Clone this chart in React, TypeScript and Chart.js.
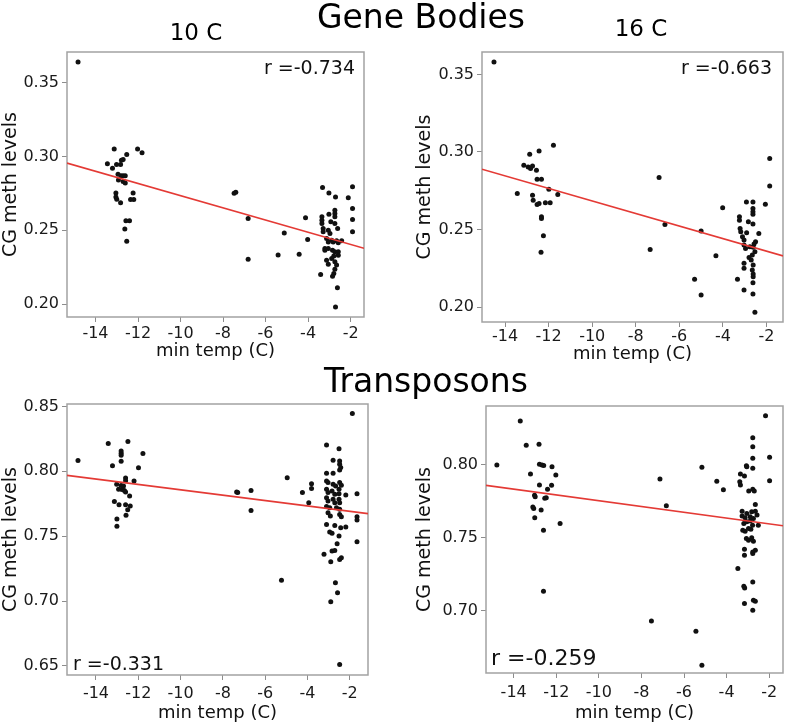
import React, { useEffect, useRef } from "react";
import { Chart, registerables } from "chart.js";

Chart.register(...registerables);

const FONT = "'DejaVu Sans', Verdana, sans-serif";

// ---------- shared tick labels ----------
const xTickValues = [-14, -12, -10, -8, -6, -4, -2];
const geneYTicks = [0.2, 0.25, 0.3, 0.35];
const trans10YTicks = [0.65, 0.7, 0.75, 0.8, 0.85];
const trans16YTicks = [0.7, 0.75, 0.8];

const sectionTitles = ["Gene Bodies", "Transposons"];
const columnTitles = ["10 C", "16 C"];
const xAxisTitle = "min temp (C)";
const yAxisTitle = "CG meth levels";
const rLabels = ["r =-0.734", "r =-0.663", "r =-0.331", "r =-0.259"];

// ---------- Gene bodies, 10 C ----------
const gb10X = [
  -14.82, -13.12, -13.44, -13.2, -13.01, -12.82, -12.78, -12.7, -12.53, -12.02, -11.81,
  -12.94, -12.8, -12.7, -12.6, -12.92, -12.7, -12.6, -13.04, -13.04, -13.0, -12.82,
  -12.35, -12.2, -12.23, -12.57, -12.4, -12.62, -12.53,
  -7.48, -7.4, -6.82, -6.82, -5.12, -5.41, -4.42, -4.12, -4.02,
  -3.32, -3.02, -2.71, -1.91, -2.11, -1.91, -1.91, -1.91, -2.74, -2.74, -2.74, -3.02,
  -3.35, -3.35, -3.35, -2.93, -2.74, -3.29, -3.29, -3.05, -2.97, -2.61, -2.42, -3.13,
  -3.05, -2.89, -2.82, -2.66, -2.58, -3.21, -3.21, -3.05, -2.85, -2.74, -2.58, -2.58,
  -2.79, -2.89, -3.13, -3.05, -2.74, -2.66, -2.74, -2.79, -2.85, -3.41, -2.62, -2.71,
];
const gb10Y = [
  0.364, 0.305, 0.295, 0.292, 0.2946, 0.2946, 0.2975, 0.298, 0.3013, 0.305, 0.3025,
  0.288, 0.287, 0.287, 0.287, 0.284, 0.283, 0.282, 0.2753, 0.2726, 0.271, 0.2686,
  0.2709, 0.2709, 0.2753, 0.2564, 0.2564, 0.2508, 0.2426,
  0.275, 0.2758, 0.258, 0.2304, 0.2482, 0.2333, 0.2338, 0.2584, 0.2438,
  0.279, 0.2753, 0.2726, 0.2794, 0.272, 0.2648, 0.2573, 0.2489, 0.2636, 0.2614, 0.2591, 0.2609,
  0.2591, 0.2568, 0.2546, 0.2557, 0.2546, 0.2512, 0.2489, 0.25, 0.2478, 0.2512, 0.2428, 0.2444,
  0.2421, 0.2433, 0.2421, 0.2428, 0.2415, 0.2377, 0.2365, 0.2377, 0.2365, 0.2354, 0.2354, 0.2331,
  0.2325, 0.2309, 0.2297, 0.227, 0.2286, 0.2264, 0.2236, 0.2207, 0.2189, 0.22, 0.211, 0.1979,
];
const gb10FitX = [-15.34, -1.37];
const gb10FitY = [0.2955, 0.2378];

// ---------- Gene bodies, 16 C ----------
const gb16X = [
  -14.51, -13.44, -13.14, -12.87, -12.94, -12.83, -12.74, -12.56, -12.44, -12.53, -12.33,
  -11.78, -12.74, -12.71, -12.53, -12.44, -12.15, -11.93, -11.99, -11.58, -12.33, -12.33,
  -12.24, -12.35,
  -6.93, -7.34, -6.66, -5.0, -5.3, -5.0, -4.32, -4.01,
  -1.85, -1.85, -2.05, -2.92, -2.62, -2.62, -2.62, -2.62, -3.24, -3.24, -2.83, -2.62,
  -3.21, -3.18, -2.91, -2.35, -3.1, -3.03, -2.5, -2.57, -3.03, -2.96, -2.76, -2.61,
  -2.53, -2.65, -2.8, -2.7, -3.03, -3.03, -2.61, -2.65, -2.61, -2.61, -3.33, -2.62,
  -3.03, -2.62, -2.53,
];
const gb16Y = [
  0.358, 0.2732, 0.2914, 0.2985, 0.2903, 0.2893, 0.291, 0.2882, 0.3006, 0.2824, 0.2824,
  0.3043, 0.2721, 0.2689, 0.2661, 0.2668, 0.2672, 0.2672, 0.276, 0.2726, 0.2582, 0.2571,
  0.246, 0.2353,
  0.2835, 0.2372, 0.2533, 0.249, 0.2179, 0.2078, 0.2331, 0.264,
  0.2958, 0.278, 0.2663, 0.2678, 0.2678, 0.2636, 0.2614, 0.2599, 0.2582, 0.256, 0.255, 0.2535,
  0.2507, 0.2485, 0.2479, 0.2475, 0.2453, 0.2432, 0.2421, 0.2406, 0.24, 0.2378, 0.2389, 0.2385,
  0.2356, 0.2335, 0.232, 0.2303, 0.2282, 0.225, 0.2271, 0.2239, 0.2213, 0.2196, 0.2179, 0.2157,
  0.211, 0.2084, 0.1967,
];
const gb16FitX = [-15.06, -1.24];
const gb16FitY = [0.2889, 0.233];

// ---------- Transposons, 10 C ----------
const tp10X = [
  -14.85, -13.42, -12.49, -12.81, -12.81, -12.81, -12.81, -11.78, -13.22, -11.99, -12.6,
  -12.6, -12.2, -13.02, -12.81, -12.7, -12.93, -12.77, -12.66, -12.6, -12.41, -13.13,
  -12.91, -12.6, -12.38, -12.5, -12.58, -13.01, -13.01,
  -7.35, -7.3, -6.67, -6.67, -4.96, -5.23, -4.24, -3.81, -3.81, -3.94,
  -1.88, -3.1, -2.51, -2.79, -2.48, -2.48, -2.43, -2.48, -3.1, -2.79, -3.1, -3.03,
  -2.79, -2.67, -2.48, -2.4, -3.1, -3.03, -2.84, -2.71, -2.51, -2.51, -2.19, -1.66,
  -3.1, -3.03, -2.79, -2.71, -2.51, -2.48, -3.1, -2.95, -2.63, -2.48, -3.03, -2.92,
  -2.48, -2.4, -1.66, -1.66, -3.1, -2.71, -2.43, -2.19, -2.95, -2.84, -2.51, -1.66,
  -2.6, -2.84, -2.71, -3.22, -2.4, -2.48, -2.9, -2.68, -2.58, -2.9, -2.48,
];
const tp10Y = [
  0.8084, 0.8215, 0.823, 0.8157, 0.8139, 0.8123, 0.8078, 0.8137, 0.8043, 0.8027, 0.7948,
  0.7928, 0.7925, 0.79, 0.789, 0.7886, 0.7861, 0.786, 0.7853, 0.784, 0.781, 0.7767,
  0.7742, 0.7743, 0.7732, 0.7704, 0.7662, 0.7633, 0.7577,
  0.784, 0.7836, 0.7853, 0.7699, 0.7951, 0.7161, 0.7836, 0.7905, 0.7867, 0.7758,
  0.8445, 0.8203, 0.8175, 0.8085, 0.808, 0.8054, 0.8029, 0.801, 0.7985, 0.7985, 0.7925, 0.7913,
  0.79, 0.7887, 0.7913, 0.7892, 0.7861, 0.7836, 0.7848, 0.7823, 0.7861, 0.7828, 0.7817, 0.7828,
  0.7797, 0.7771, 0.7784, 0.7758, 0.7784, 0.7758, 0.7728, 0.772, 0.772, 0.7707, 0.7681, 0.7655,
  0.7668, 0.765, 0.765, 0.7624, 0.7591, 0.7583, 0.7566, 0.757, 0.7532, 0.7522, 0.7501, 0.7458,
  0.7442, 0.7385, 0.739, 0.736, 0.7334, 0.7321, 0.7303, 0.7141, 0.7064, 0.6995, 0.6511,
];
const tp10FitX = [-15.37, -1.14];
const tp10FitY = [0.7969, 0.7674];

// ---------- Transposons, 16 C ----------
const tp16X = [
  -14.79, -13.69, -13.41, -12.81, -13.21, -12.79, -12.67, -12.59, -12.2, -12.02, -12.79,
  -12.22, -12.41, -13.02, -12.99, -12.54, -12.47, -13.1, -13.06, -12.71, -13.01, -11.82,
  -12.6, -12.6,
  -7.13, -6.83, -7.53, -5.44, -5.16, -5.16, -4.46, -4.15,
  -2.17, -2.77, -2.77, -1.98, -2.77, -3.07, -3.05, -2.77, -3.35, -3.16, -3.38, -3.35,
  -1.98, -2.96, -2.77, -2.7, -2.65, -3.27, -3.05, -2.82, -2.65, -3.27, -3.13, -2.89,
  -2.74, -2.57, -3.19, -3.05, -2.89, -2.78, -2.51, -3.24, -3.13, -2.97, -2.86, -3.07,
  -2.97, -2.82, -2.74, -2.65, -2.77, -3.16, -3.16, -2.77, -3.47, -3.19, -3.15, -2.77,
  -3.16, -2.74, -2.65, -2.77,
];
const tp16Y = [
  0.7995, 0.8296, 0.813, 0.8137, 0.7934, 0.8, 0.7995, 0.7993, 0.7984, 0.7927, 0.7859,
  0.7857, 0.7831, 0.779, 0.7779, 0.7768, 0.7772, 0.771, 0.7699, 0.7688, 0.7635, 0.7597,
  0.7551, 0.7135,
  0.79, 0.7717, 0.6932, 0.6861, 0.663, 0.798, 0.7884, 0.7827,
  0.8332, 0.8182, 0.812, 0.8048, 0.8041, 0.799, 0.7984, 0.7973, 0.7934, 0.792, 0.7881, 0.7859,
  0.7888, 0.7818, 0.7831, 0.7818, 0.7727, 0.768, 0.7665, 0.7676, 0.768, 0.7647, 0.7635, 0.7642,
  0.7631, 0.7654, 0.7597, 0.7608, 0.7613, 0.7585, 0.7585, 0.7551, 0.7544, 0.7563, 0.7558, 0.7494,
  0.7483, 0.7499, 0.7476, 0.7415, 0.7403, 0.7421, 0.738, 0.7392, 0.729, 0.7169, 0.7157, 0.7198,
  0.7051, 0.7073, 0.7066, 0.7005,
];
const tp16FitX = [-15.3, -1.35];
const tp16FitY = [0.7857, 0.7581];

// ---------- panel layout ----------
type Box = { left: number; top: number; width: number; height: number };
type Plot = { L: number; T: number; R: number; B: number };
type PanelCfg = {
  xs: number[];
  ys: number[];
  fitX: number[];
  fitY: number[];
  xMin: number;
  xMax: number;
  yMin: number;
  yMax: number;
  yTicks: number[];
  rText: string;
  rCorner: "tr" | "bl";
  rDx: number;
  rDy: number;
  rSize: number;
  box: Box;
  plot: Plot;
  xAxisH: number;
  xTickPad: number;
  yTitlePad: number;
};

const panels: PanelCfg[] = [
  {
    xs: gb10X, ys: gb10Y, fitX: gb10FitX, fitY: gb10FitY,
    xMin: -15.34, xMax: -1.37, yMin: 0.1912, yMax: 0.3708, yTicks: geneYTicks,
    rText: rLabels[0], rCorner: "tr", rDx: 9, rDy: 22, rSize: 19,
    box: { left: 0, top: 30, width: 380, height: 332 },
    plot: { L: 67, T: 52, R: 364, B: 317 }, xAxisH: 45, xTickPad: 2, yTitlePad: 0,
  },
  {
    xs: gb16X, ys: gb16Y, fitX: gb16FitX, fitY: gb16FitY,
    xMin: -15.06, xMax: -1.24, yMin: 0.1904, yMax: 0.3644, yTicks: geneYTicks,
    rText: rLabels[1], rCorner: "tr", rDx: 11, rDy: 22, rSize: 19,
    box: { left: 400, top: 30, width: 387, height: 337 },
    plot: { L: 482, T: 52, R: 786, B: 322 }, xAxisH: 43, xTickPad: 0, yTitlePad: 14,
  },
  {
    xs: tp10X, ys: tp10Y, fitX: tp10FitX, fitY: tp10FitY,
    xMin: -15.37, xMax: -1.14, yMin: 0.643, yMax: 0.8519, yTicks: trans10YTicks,
    rText: rLabels[2], rCorner: "bl", rDx: 6, rDy: 5, rSize: 19,
    box: { left: 0, top: 380, width: 390, height: 344 },
    plot: { L: 67, T: 404, R: 368, B: 675 }, xAxisH: 49, xTickPad: 4, yTitlePad: 0,
  },
  {
    xs: tp16X, ys: tp16Y, fitX: tp16FitX, fitY: tp16FitY,
    xMin: -15.3, xMax: -1.35, yMin: 0.6577, yMax: 0.8398, yTicks: trans16YTicks,
    rText: rLabels[3], rCorner: "bl", rDx: 5, rDy: 8, rSize: 22,
    box: { left: 400, top: 380, width: 387, height: 344 },
    plot: { L: 486, T: 406, R: 786, B: 673 }, xAxisH: 51, xTickPad: 5, yTitlePad: 14,
  },
];

const framePlugin = {
  id: "frame",
  beforeDatasetsDraw(chart: any) {
    const { ctx, chartArea: a } = chart;
    ctx.save();
    ctx.strokeStyle = "#a2a2a2";
    ctx.lineWidth = 1.5;
    ctx.strokeRect(a.left, a.top, a.right - a.left, a.bottom - a.top);
    ctx.restore();
  },
  afterDatasetsDraw(chart: any, _args: any, opts: any) {
    const { ctx, chartArea: a } = chart;
    ctx.save();
    ctx.font = `${opts.size}px ${FONT}`;
    ctx.fillStyle = "#111";
    ctx.textBaseline = "alphabetic";
    if (opts.corner === "tr") {
      ctx.textAlign = "right";
      ctx.fillText(opts.text, a.right - opts.dx, a.top + opts.dy);
    } else {
      ctx.textAlign = "left";
      ctx.fillText(opts.text, a.left + opts.dx, a.bottom - opts.dy);
    }
    ctx.restore();
  },
};

function Panel({ cfg }: { cfg: PanelCfg }) {
  const ref = useRef<HTMLCanvasElement | null>(null);
  useEffect(() => {
    if (!ref.current) return;
    const { box, plot } = cfg;
    const tickGrid = {
      display: true,
      drawOnChartArea: false,
      drawTicks: true,
      tickLength: 5,
      color: "#8c8c8c",
      lineWidth: 1,
    };
    const chart = new Chart(ref.current, {
      type: "scatter",
      data: {
        datasets: [
          {
            data: cfg.fitX.map((x, i) => ({ x, y: cfg.fitY[i] })),
            showLine: true,
            borderColor: "#e43a35",
            borderWidth: 1.6,
            pointRadius: 0,
            order: 0,
          },
          {
            data: cfg.xs.map((x, i) => ({ x, y: cfg.ys[i] })),
            pointRadius: 2.5,
            backgroundColor: "#111",
            borderWidth: 0,
            order: 1,
          },
        ],
      },
      options: {
        responsive: false,
        animation: false,
        events: [],
        layout: {
          padding: {
            left: 0,
            top: plot.T - box.top,
            right: box.left + box.width - plot.R,
            bottom: box.top + box.height - plot.B - cfg.xAxisH,
          },
        },
        plugins: {
          legend: { display: false },
          tooltip: { enabled: false },
          frame: { text: cfg.rText, corner: cfg.rCorner, dx: cfg.rDx, dy: cfg.rDy, size: cfg.rSize },
        } as any,
        scales: {
          x: {
            type: "linear",
            min: cfg.xMin,
            max: cfg.xMax,
            afterBuildTicks: (s: any) => {
              s.ticks = xTickValues.map((value) => ({ value }));
            },
            afterFit: (s: any) => {
              s.height = cfg.xAxisH;
            },
            grid: tickGrid,
            border: { display: false },
            ticks: {
              font: { family: FONT, size: 16 },
              color: "#1a1a1a",
              padding: cfg.xTickPad,
              maxRotation: 0,
              autoSkip: false,
              callback: (v: any) => String(Math.round(Number(v))),
            },
            title: {
              display: true,
              text: xAxisTitle,
              font: { family: FONT, size: 18 },
              color: "#111",
              padding: { top: 0, bottom: 0 },
            },
          },
          y: {
            type: "linear",
            min: cfg.yMin,
            max: cfg.yMax,
            afterBuildTicks: (s: any) => {
              s.ticks = cfg.yTicks.map((value) => ({ value }));
            },
            afterFit: (s: any) => {
              s.width = plot.L - box.left;
            },
            grid: tickGrid,
            border: { display: false },
            ticks: {
              font: { family: FONT, size: 16 },
              color: "#1a1a1a",
              padding: 3,
              autoSkip: false,
              callback: (v: any) => Number(v).toFixed(2),
            },
            title: {
              display: true,
              text: yAxisTitle,
              font: { family: FONT, size: 19 },
              color: "#111",
              padding: { top: cfg.yTitlePad, bottom: 0 },
            },
          },
        },
      },
      plugins: [framePlugin as any],
    });
    return () => chart.destroy();
  }, [cfg]);
  const { box } = cfg;
  return (
    <canvas
      ref={ref}
      width={box.width}
      height={box.height}
      style={{ position: "absolute", left: box.left, top: box.top, width: box.width, height: box.height }}
    />
  );
}

const headStyle = (left: number, top: number, width: number, size: number): React.CSSProperties => ({
  position: "absolute",
  left,
  top,
  width,
  textAlign: "center",
  fontFamily: FONT,
  fontSize: size,
  lineHeight: `${size}px`,
  color: "#000",
  whiteSpace: "nowrap",
});

export default function App() {
  return (
    <div style={{ position: "absolute", left: 0, top: 0, width: 787, height: 727, background: "#fff", overflow: "hidden" }}>
      {panels.map((p, i) => (
        <Panel key={i} cfg={p} />
      ))}
      <div style={headStyle(221, 0, 400, 33)}>{sectionTitles[0]}</div>
      <div style={headStyle(226, 364, 400, 33)}>{sectionTitles[1]}</div>
      <div style={headStyle(136, 21, 120, 23)}>{columnTitles[0]}</div>
      <div style={headStyle(581, 17, 120, 23)}>{columnTitles[1]}</div>
    </div>
  );
}
